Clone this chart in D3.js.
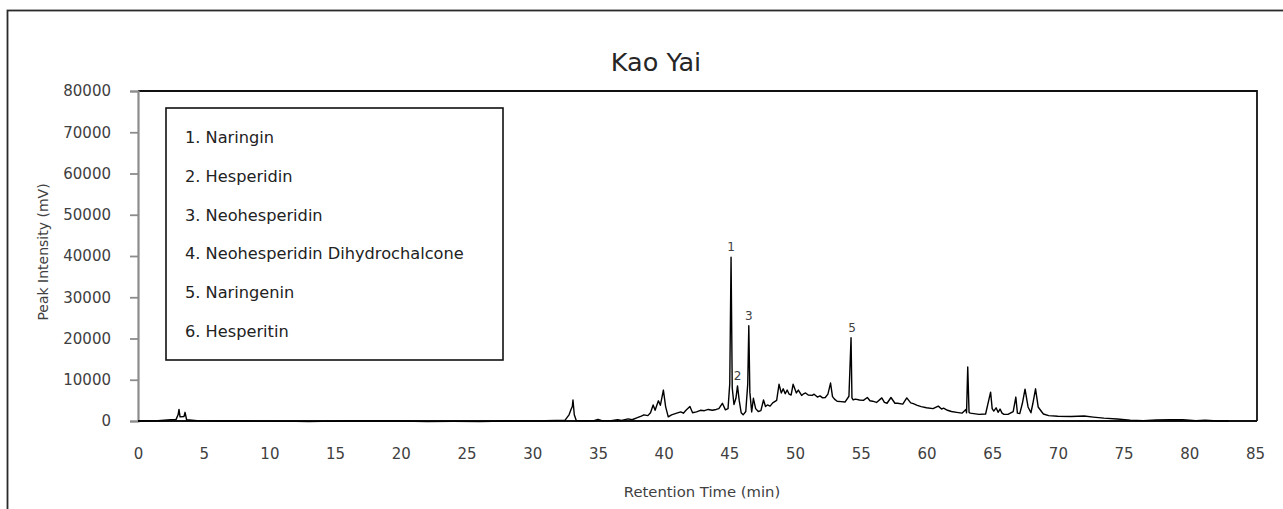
<!DOCTYPE html>
<html>
<head>
<meta charset="utf-8">
<script src="https://cdn.jsdelivr.net/npm/d3@7"></script>
<style>
  html, body { margin: 0; padding: 0; background: #fff; }
  svg { display: block; }
  text { font-family: "DejaVu Sans", sans-serif; }
</style>
</head>
<body>
<svg id="chart" width="1283" height="509"></svg>
<script>
// ---- data ----
const title = "Kao Yai";
const xTicks = [0,5,10,15,20,25,30,35,40,45,50,55,60,65,70,75,80,85];
const yTicks = [0,10000,20000,30000,40000,50000,60000,70000,80000];
const legendItems = [
  "1. Naringin",
  "2. Hesperidin",
  "3. Neohesperidin",
  "4. Neohesperidin Dihydrochalcone",
  "5. Naringenin",
  "6. Hesperitin"
];
const peakLabels = ["1","2","3","5"];
const peakTimes  = [45.13, 45.62, 46.48, 54.34];
const peakValues = [39700, 8500, 23100, 20200];

const times = [
  0,1.5,2.5,2.9,3.05,3.12,3.2,3.5,3.58,3.7,4.5,6,8,12,13,14,16,20,22,24,26,28,31,32.5,
  32.8,32.95,33.05,33.1,33.2,33.35,34,34.7,35.0,35.3,36,36.5,36.8,37.3,37.6,38.0,38.3,38.5,38.8,
  39.0,39.2,39.35,39.6,39.75,39.98,40.15,40.35,40.6,41.0,41.3,41.5,41.7,42.0,42.2,42.5,42.8,43.1,
  43.4,43.7,44.0,44.2,44.47,44.7,44.9,45.03,45.13,45.22,45.35,45.5,45.62,45.75,45.9,46.05,46.25,
  46.4,46.48,46.56,46.7,46.83,47.0,47.2,47.4,47.6,47.75,47.9,48.1,48.3,48.6,48.78,48.95,49.1,
  49.25,49.4,49.55,49.7,49.85,50.1,50.25,50.5,50.65,50.8,51.0,51.3,51.45,51.7,51.9,52.1,52.3,
  52.5,52.7,52.85,53.0,53.2,53.5,53.8,54.1,54.26,54.33,54.42,54.6,54.9,55.2,55.5,55.7,55.9,56.2,
  56.6,56.8,57.0,57.3,57.6,57.8,58.2,58.5,58.8,59.0,59.3,59.6,60.0,60.5,60.9,61.15,61.3,61.6,
  61.9,62.3,62.7,63.0,63.05,63.14,63.24,63.33,63.6,64.0,64.5,64.88,65.0,65.12,65.3,65.45,65.6,
  65.75,65.9,66.2,66.6,66.8,66.92,67.1,67.3,67.5,67.73,67.95,68.1,68.3,68.5,68.75,68.9,69.3,
  70.0,71.0,72.0,72.7,73.5,74.5,75.5,76.5,77.5,78.5,79.5,80.5,81.2,82.2,83,85
];
const intensity = [
  0,50,300,400,1500,2800,1000,1100,2100,300,100,0,0,-100,-150,-100,0,0,-150,-100,-150,0,50,200,
  1500,2800,3500,5100,1500,100,50,100,400,100,100,300,150,500,300,800,1200,1500,1300,
  2000,3900,2600,4900,3800,7500,3500,1000,1500,1900,2200,1900,2600,3500,2000,2200,2600,2500,
  2800,2600,2800,3000,4300,2700,3000,9000,39700,8000,4000,5500,8500,5000,2000,1500,2300,
  9000,23100,7000,2200,5500,3000,2300,2500,5100,3500,3900,3600,4400,5000,8900,6800,7800,
  6600,7500,6500,6300,8900,6800,7500,6200,6600,6800,6300,6200,6500,5800,6100,5600,
  5700,6500,9200,5900,5300,4800,4700,4600,6000,20200,5600,5100,5300,5100,5000,5700,4900,4800,
  4500,5600,4500,4300,5700,4300,4300,4100,5600,4400,4200,3800,3500,3200,3000,3600,2900,3100,
  2600,2300,2100,1900,2800,2000,13100,2100,1900,1800,1600,1700,7000,3000,2400,3200,2100,
  2900,1900,1600,1600,2300,5800,1900,1800,4300,7700,3400,2000,4300,7800,3400,2300,1700,
  1300,1150,1100,1200,950,700,500,200,100,250,300,300,50,200,0,0
];

// ---- layout ----
const svg = d3.select("#chart");
const plotLeft = 138, plotTop = 91, plotBottom = 421, plotRight = 1257;
const x = d3.scaleLinear().domain([0, 85]).range([138, 1255]);
const y = d3.scaleLinear().domain([0, 80000]).range([plotBottom, plotTop]);

// outer chart border
svg.append("rect")
  .attr("x", 7.5).attr("y", 10.5).attr("width", 1300).attr("height", 520)
  .attr("fill", "none").attr("stroke", "#2a2a2a").attr("stroke-width", 1.8);

// title
svg.append("text")
  .attr("x", 656).attr("y", 70.5)
  .attr("text-anchor", "middle")
  .attr("font-size", 25.5).attr("fill", "#262626")
  .text(title);

// plot area border (top and right)
svg.append("path")
  .attr("d", `M${plotLeft},${plotTop}H${plotRight}V${plotBottom}`)
  .attr("fill", "none").attr("stroke", "#111").attr("stroke-width", 1.8);

// y axis
const yAxis = d3.axisLeft(y).tickValues(yTicks).tickSize(8).tickPadding(19)
  .tickFormat(d3.format("d"));
const gy = svg.append("g").attr("transform", `translate(${plotLeft},0)`).call(yAxis);
gy.select(".domain").attr("stroke", "#8c8c8c").attr("stroke-width", 2.2);
gy.selectAll(".tick line").attr("stroke", "#8c8c8c").attr("stroke-width", 1.8);
gy.selectAll(".tick text")
  .attr("font-family", "DejaVu Sans, sans-serif")
  .attr("font-size", 15).attr("fill", "#404040");

// x axis
const xAxis = d3.axisBottom(x).tickValues(xTicks).tickSize(0).tickPadding(27);
const gx = svg.append("g").attr("transform", `translate(0,${plotBottom})`).call(xAxis);
gx.select(".domain").remove();
gx.selectAll(".tick text")
  .attr("font-family", "DejaVu Sans, sans-serif")
  .attr("font-size", 15).attr("fill", "#404040");
svg.append("line")
  .attr("x1", plotLeft).attr("x2", plotRight)
  .attr("y1", plotBottom).attr("y2", plotBottom)
  .attr("stroke", "#111").attr("stroke-width", 2);

// axis titles
svg.append("text")
  .attr("x", 702).attr("y", 496.5)
  .attr("text-anchor", "middle")
  .attr("font-size", 14.8).attr("fill", "#404040")
  .text("Retention Time (min)");
svg.append("text")
  .attr("transform", "translate(48,252) rotate(-90)")
  .attr("text-anchor", "middle")
  .attr("font-size", 14).attr("fill", "#404040")
  .text("Peak Intensity (mV)");

// chromatogram line
const pts = times.map((t, i) => [t, intensity[i]]);
const line = d3.line().x(d => x(d[0])).y(d => y(Math.max(d[1], -400)));
svg.append("path")
  .datum(pts)
  .attr("d", line)
  .attr("fill", "none").attr("stroke", "#000").attr("stroke-width", 1.4)
  .attr("stroke-linejoin", "round");

// peak labels
svg.selectAll(".peaklabel")
  .data(peakLabels)
  .enter().append("text")
  .attr("class", "peaklabel")
  .attr("x", (d, i) => x(peakTimes[i]))
  .attr("y", (d, i) => y(peakValues[i]) - 6)
  .attr("text-anchor", "middle")
  .attr("font-size", 12).attr("fill", "#404040")
  .text(d => d);

// legend box
svg.append("rect")
  .attr("x", 166).attr("y", 108).attr("width", 337).attr("height", 252)
  .attr("fill", "#fff").attr("stroke", "#111").attr("stroke-width", 1.6);
svg.selectAll(".legtext")
  .data(legendItems)
  .enter().append("text")
  .attr("class", "legtext")
  .attr("x", 185)
  .attr("y", (d, i) => 142.7 + i * 38.9)
  .attr("font-size", 16.2).attr("fill", "#222")
  .text(d => d);
</script>
</body>
</html>
